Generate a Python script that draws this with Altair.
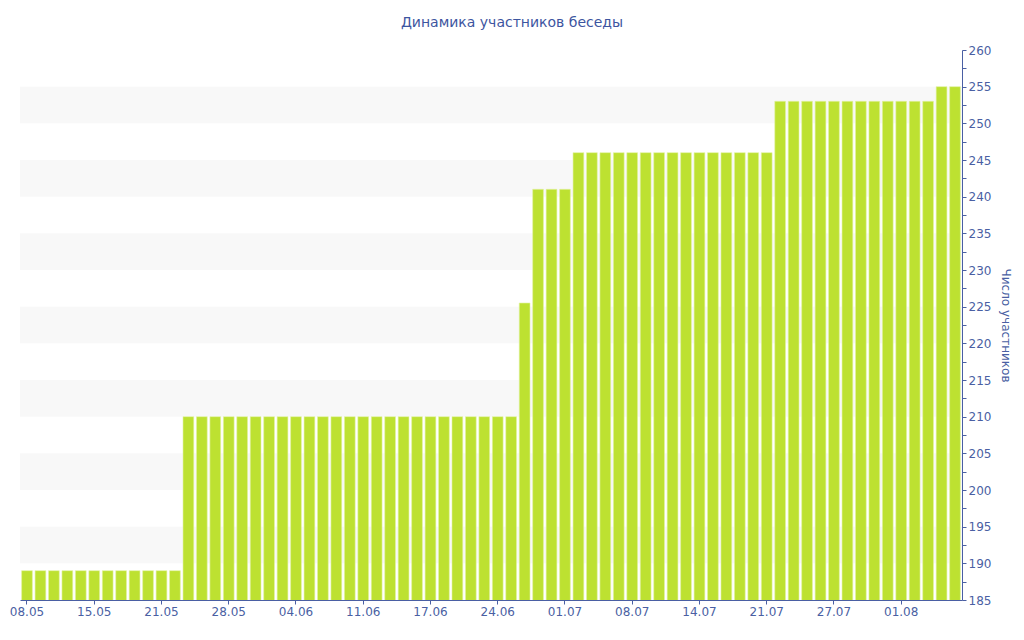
import altair as alt
import pandas as pd

dates = [
    "08.05", "09.05", "10.05", "12.05", "13.05",
    "15.05", "16.05", "17.05", "18.05", "19.05",
    "21.05", "22.05", "23.05", "25.05", "26.05",
    "28.05", "29.05", "30.05", "31.05", "02.06",
    "04.06", "05.06", "06.06", "08.06", "09.06",
    "11.06", "12.06", "13.06", "14.06", "15.06",
    "17.06", "18.06", "19.06", "21.06", "22.06",
    "24.06", "25.06", "26.06", "28.06", "29.06",
    "01.07", "02.07", "03.07", "05.07", "06.07",
    "08.07", "09.07", "10.07", "11.07", "12.07",
    "14.07", "15.07", "16.07", "18.07", "19.07",
    "21.07", "22.07", "23.07", "24.07", "25.07",
    "27.07", "28.07", "29.07", "30.07", "31.07",
    "01.08", "02.08", "03.08", "04.08", "05.08",
]
members = (
    [189] * 12
    + [210] * 25
    + [225.5]
    + [241] * 3
    + [246] * 15
    + [253] * 12
    + [255] * 2
)
label_dates = dates[::5]
band_starts = [190, 200, 210, 220, 230, 240, 250]
band_ends = [195, 205, 215, 225, 235, 245, 255]
y_ticks = [185, 187.5, 190, 192.5, 195, 197.5, 200, 202.5, 205, 207.5,
           210, 212.5, 215, 217.5, 220, 222.5, 225, 227.5, 230, 232.5,
           235, 237.5, 240, 242.5, 245, 247.5, 250, 252.5, 255, 257.5, 260]

bars_df = pd.DataFrame({"date": dates, "members": members})
bands_df = pd.DataFrame({"y0": band_starts, "y1": band_ends})

AXIS_COLOR = "#4a5fa3"
FONT = "DejaVu Sans"

yscale = alt.Scale(domain=[185, 260], zero=False, nice=False)

y_axis = alt.Axis(
    orient="right",
    title="Число участников",
    titleColor=AXIS_COLOR,
    titleFont=FONT,
    titleFontSize=12,
    titleFontWeight="normal",
    titlePadding=8,
    values=y_ticks,
    labelExpr="datum.value % 5 == 0 ? datum.value : ''",
    labelOverlap=False,
    labelColor=AXIS_COLOR,
    labelFont=FONT,
    labelFontSize=12,
    labelPadding=2,
    tickColor=AXIS_COLOR,
    tickSize=4,
    domainColor=AXIS_COLOR,
    grid=False,
)

bands = alt.Chart(bands_df).mark_rect(color="#f8f8f8").encode(
    y=alt.Y("y0:Q", scale=yscale, axis=y_axis),
    y2="y1:Q",
    x=alt.value(0),
    x2=alt.value(942),
)

bars = alt.Chart(bars_df).mark_bar(
    color="#bde131", stroke="#e2f3a4", strokeWidth=0.6, clip=True
).encode(
    x=alt.X(
        "date:N",
        sort=None,
        scale=alt.Scale(paddingInner=0.2, paddingOuter=0.12),
        axis=alt.Axis(
            title=None,
            values=label_dates,
            labelAngle=0,
            labelColor=AXIS_COLOR,
            labelFont=FONT,
            labelFontSize=12,
            labelPadding=2,
            tickColor=AXIS_COLOR,
            tickSize=4,
            domainColor=AXIS_COLOR,
            grid=False,
        ),
    ),
    y=alt.Y("members:Q", scale=yscale, axis=y_axis),
)

chart = (
    alt.layer(bands, bars)
    .properties(
        width=942,
        height=550,
        background="white",
        autosize=alt.AutoSizeParams(type="none"),
        padding={"left": 12, "top": 42, "right": 54, "bottom": 32},
        title=alt.TitleParams(
            "Динамика участников беседы",
            font=FONT,
            fontSize=14,
            fontWeight="normal",
            color="#3d55a0",
            anchor="middle",
            dx=21,
            offset=14,
        ),
    )
    .configure_view(strokeWidth=0, stroke="transparent")
)

chart.save("out.html", embed_options={"renderer": "svg", "actions": False})
